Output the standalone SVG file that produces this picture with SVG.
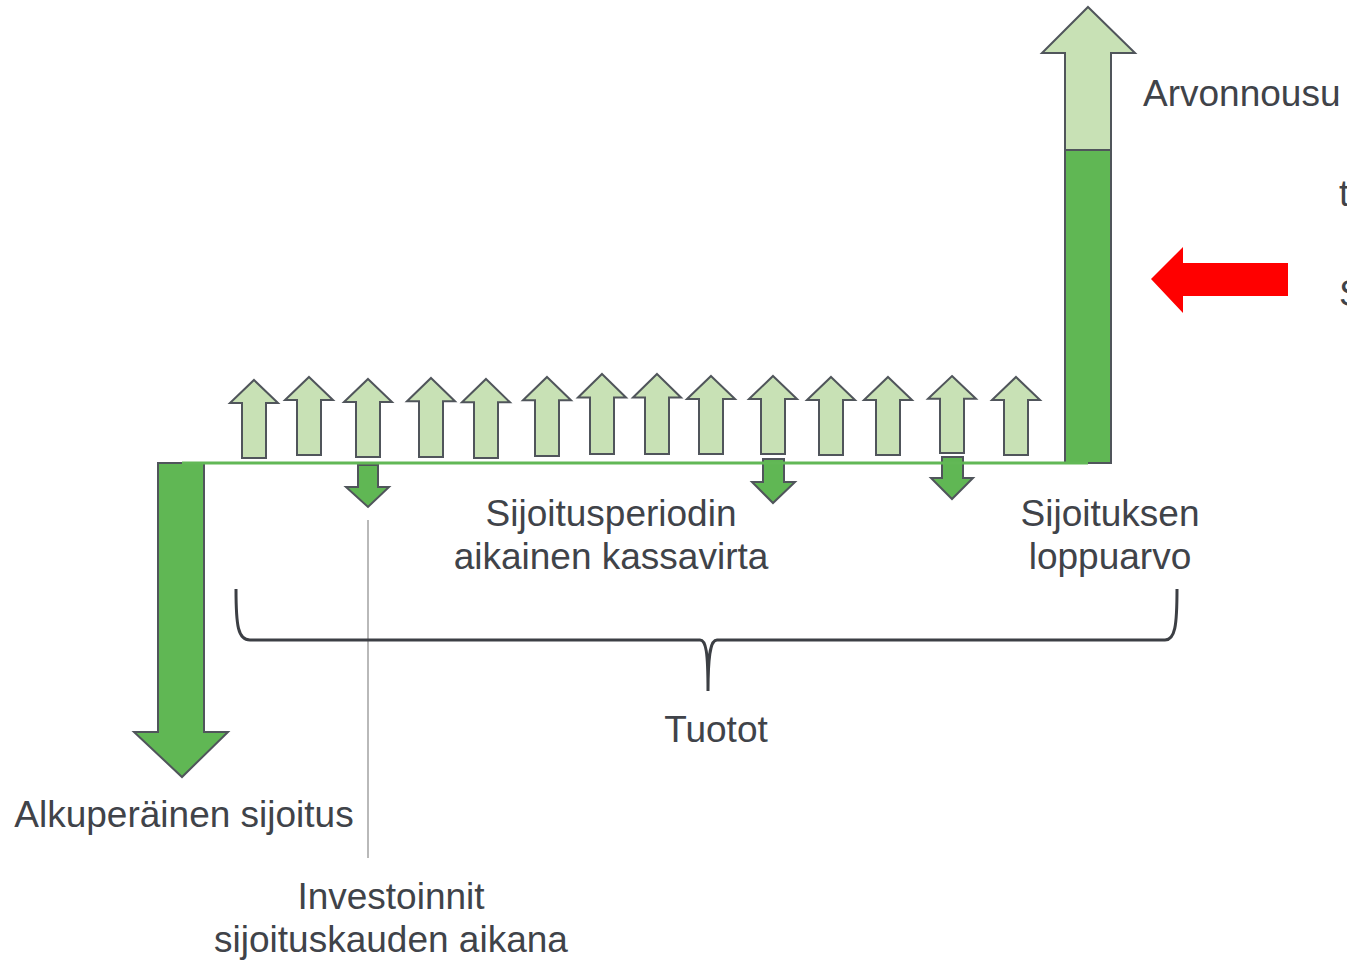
<svg xmlns="http://www.w3.org/2000/svg" width="1347" height="960" viewBox="0 0 1347 960">
  <style>
    .lbl { font-family: "Liberation Sans", Arial, sans-serif; font-size: 37px; fill: #404349; }
    .mid { text-anchor: middle; }
    .up { fill: #c8e1b5; stroke: #50555b; stroke-width: 2; stroke-linejoin: miter; }
    .down { fill: #60b754; stroke: #50555b; stroke-width: 2; stroke-linejoin: miter; }
    .axis { stroke: #62b856; stroke-width: 3; fill: none; }
    .brace { stroke: #3c3f44; stroke-width: 3; fill: none; }
    .guide { stroke: #8a8a8a; stroke-width: 1.2; fill: none; }
  </style>
  <defs>
    <!-- small return arrow: tip at (0,0), shaft bottom at y=78 -->
    <polygon id="upArrow" points="0,0 24,23 12,23 12,78 -12,78 -12,23 -24,23"/>
  </defs>
  <rect width="1347" height="960" fill="#ffffff"/>

  <!-- initial investment -->
  <g id="initial-investment">
    <polygon class="down" points="158,463 204,463 204,732 228,732 182,777 134,732 158,732"/>
  </g>

  <!-- periodic cash flows (returns) -->
  <g id="cash-inflows">
    <use href="#upArrow" class="up" transform="translate(254,380) scale(1,1.0)"/>
    <use href="#upArrow" class="up" transform="translate(309,377)"/>
    <use href="#upArrow" class="up" transform="translate(368,379) scale(1,1.0)"/>
    <use href="#upArrow" class="up" transform="translate(431,378) scale(1,1.013)"/>
    <use href="#upArrow" class="up" transform="translate(486,379) scale(1,1.013)"/>
    <use href="#upArrow" class="up" transform="translate(547,377) scale(1,1.013)"/>
    <use href="#upArrow" class="up" transform="translate(602,374) scale(1,1.026)"/>
    <use href="#upArrow" class="up" transform="translate(657,374) scale(1,1.026)"/>
    <use href="#upArrow" class="up" transform="translate(711,376) scale(1,1.0)"/>
    <use href="#upArrow" class="up" transform="translate(773,376) scale(1,1.0)"/>
    <use href="#upArrow" class="up" transform="translate(831,377) scale(1,1.0)"/>
    <use href="#upArrow" class="up" transform="translate(888,377) scale(1,1.0)"/>
    <use href="#upArrow" class="up" transform="translate(952,376) scale(1,0.987)"/>
    <use href="#upArrow" class="up" transform="translate(1016,377) scale(1,1.0)"/>
  </g>

  <!-- additional investments during the period -->
  <g id="cash-outflows">
    <polygon class="down" points="358,465 378,465 378,487 389,487 368,507 346,487 358,487"/>
    <polygon class="down" points="763,459 784,459 784,482 795,482 773,503 752,482 763,482"/>
    <polygon class="down" points="942,457 963,457 963,478 973,478 952,499 931,478 942,478"/>
  </g>

  <!-- terminal value with appreciation on top -->
  <g id="terminal-value">
    <polygon class="up" points="1088,7 1135,53 1111,53 1111,150 1065,150 1065,53 1042,53"/>
    <rect class="down" x="1065" y="150" width="46" height="313"/>
  </g>

  <!-- red pointer -->
  <g id="pointer">
    <polygon fill="#ff0000" points="1151,279 1183,247 1183,263 1288,263 1288,296 1183,296 1183,313"/>
  </g>

  <!-- time axis, brace and guide line -->
  <g id="connectors">
    <line class="axis" x1="182" y1="463" x2="1088" y2="463"/>
    <line class="guide" x1="368" y1="520" x2="368" y2="858"/>
    <path class="brace" d="M236,589 C236,626 238,640 250,640 L700,640 C706,640 708,652 708,691 C708,652 711,640 717,640 L1165,640 C1175,640 1177,626 1177,589"/>
  </g>

  <!-- labels -->
  <g id="labels">
    <text class="lbl" x="1143" y="106">Arvonnousu</text>
    <text class="lbl" x="1339" y="206">t</text>
    <text class="lbl" x="1339" y="306">S</text>
    <text class="lbl mid" x="1110" y="526">Sijoituksen</text>
    <text class="lbl mid" x="1110" y="569">loppuarvo</text>
    <text class="lbl mid" x="611" y="526">Sijoitusperiodin</text>
    <text class="lbl mid" x="611" y="569">aikainen kassavirta</text>
    <text class="lbl mid" x="716" y="742">Tuotot</text>
    <text class="lbl mid" x="184" y="827">Alkuperäinen sijoitus</text>
    <text class="lbl mid" x="391" y="909">Investoinnit</text>
    <text class="lbl mid" x="391" y="952">sijoituskauden aikana</text>
  </g>
</svg>
